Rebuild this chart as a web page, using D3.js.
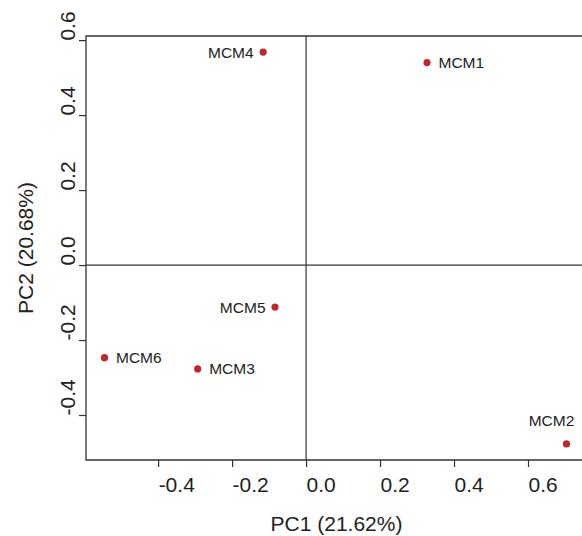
<!DOCTYPE html>
<html>
<head>
<meta charset="utf-8">
<script src="https://cdn.jsdelivr.net/npm/d3@7"></script>
<style>
  body { margin: 0; background: #fff; }
  text { font-family: "Liberation Sans", Arial, sans-serif; fill: #222; }
</style>
</head>
<body>
<div id="chart"></div>
<script>
// PCA scores
var samples = ['MCM1', 'MCM2', 'MCM3', 'MCM4', 'MCM5', 'MCM6'];
var pc1 = [0.327, 0.704, -0.293, -0.116, -0.084, -0.545];
var pc2 = [0.540, -0.477, -0.277, 0.568, -0.112, -0.247];
var labelSide = ['right', 'above', 'right', 'left', 'left', 'right'];
var xTicks = [-0.4, -0.2, 0.0, 0.2, 0.4, 0.6];
var yTicks = [-0.4, -0.2, 0.0, 0.2, 0.4, 0.6];

var width = 582, height = 536;
var margin = {top: 36, right: 0, bottom: 76, left: 86};
var innerW = width - margin.left - margin.right,
    innerH = height - margin.top - margin.bottom;

var svg = d3.select('#chart').append('svg')
    .attr('width', width)
    .attr('height', height);

var g = svg.append('g')
    .attr('transform', 'translate(' + margin.left + ',' + margin.top + ')');

var x = d3.scaleLinear().domain([-0.595, 0.746]).range([0, innerW]);
var y = d3.scaleLinear().domain([-0.52, 0.611]).range([innerH, 0]);

// plain hyphen for negatives, like the original
var fmt = function(d) { return d3.format('.1f')(d).replace('\u2212', '-'); };
var lineColor = '#333';

// axes
var xAxis = d3.axisBottom(x).tickValues(xTicks).tickFormat(fmt).tickSize(7).tickSizeOuter(0).tickPadding(10);
var yAxis = d3.axisLeft(y).tickValues(yTicks).tickFormat(fmt).tickSize(7).tickSizeOuter(0);

var gx = g.append('g')
    .attr('transform', 'translate(0,' + innerH + ')')
    .call(xAxis);
gx.select('.domain').remove();
gx.selectAll('line').attr('stroke', lineColor).attr('stroke-width', 1.2);
gx.selectAll('text')
    .style('font-size', '21px')
    .attr('fill', '#222')
    .attr('text-anchor', 'start');

var gy = g.append('g').call(yAxis);
gy.select('.domain').remove();
gy.selectAll('line').attr('stroke', lineColor).attr('stroke-width', 1.2);
gy.selectAll('text')
    .style('font-size', '21px')
    .attr('fill', '#222')
    .attr('text-anchor', 'start')
    .attr('transform', 'rotate(-90)')
    .attr('x', 0)
    .attr('y', -11)
    .attr('dy', 0);

// frame: left, top, bottom
g.append('path')
    .attr('d', 'M' + innerW + ',0H0V' + innerH + 'H' + innerW)
    .attr('fill', 'none')
    .attr('stroke', lineColor)
    .attr('stroke-width', 1.3);

// zero lines
g.append('line')
    .attr('x1', x(0)).attr('x2', x(0))
    .attr('y1', 0).attr('y2', innerH)
    .attr('stroke', lineColor).attr('stroke-width', 1.2);
g.append('line')
    .attr('x1', 0).attr('x2', innerW)
    .attr('y1', y(0)).attr('y2', y(0))
    .attr('stroke', lineColor).attr('stroke-width', 1.2);

// points
var data = samples.map(function(s, i) {
    return {name: s, x: pc1[i], y: pc2[i], side: labelSide[i]};
});

g.selectAll('circle.pt')
    .data(data)
    .enter().append('circle')
    .attr('class', 'pt')
    .attr('cx', function(d) { return x(d.x); })
    .attr('cy', function(d) { return y(d.y); })
    .attr('r', 3.6)
    .attr('fill', '#c0272d');

g.selectAll('text.lbl')
    .data(data)
    .enter().append('text')
    .attr('class', 'lbl')
    .style('font-size', '15.5px')
    .attr('x', function(d) {
        if (d.side === 'right') return x(d.x) + 11.5;
        if (d.side === 'left') return x(d.x) - 9.5;
        return x(d.x) - 15;
    })
    .attr('y', function(d) {
        if (d.side === 'above') return y(d.y) - 18;
        return y(d.y) + 5.5;
    })
    .attr('text-anchor', function(d) {
        if (d.side === 'right') return 'start';
        if (d.side === 'left') return 'end';
        return 'middle';
    })
    .text(function(d) { return d.name; });

// axis titles
svg.append('text')
    .attr('x', 336.5)
    .attr('y', 531)
    .attr('text-anchor', 'middle')
    .style('font-size', '21px')
    .text('PC1 (21.62%)');

svg.append('text')
    .attr('transform', 'translate(33,248) rotate(-90)')
    .attr('text-anchor', 'middle')
    .style('font-size', '21px')
    .text('PC2 (20.68%)');
</script>
</body>
</html>
